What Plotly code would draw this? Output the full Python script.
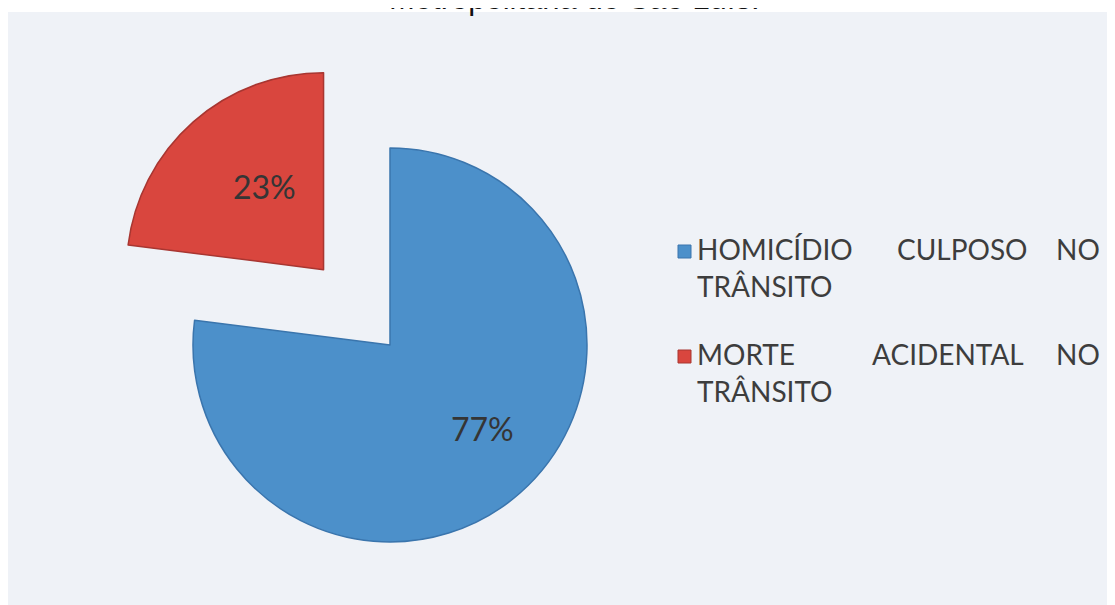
import math
import plotly.graph_objects as go

# data
labels = ["HOMICÍDIO CULPOSO NO TRÂNSITO", "MORTE ACIDENTAL NO TRÂNSITO"]
values = [77, 23]
pulls = [0, 0.51]
colors = ["#4c90ca", "#d9463e"]
edge_colors = ["#3a75ad", "#a83631"]
legend_words = [["HOMICÍDIO", "CULPOSO", "NO"], ["MORTE", "ACIDENTAL", "NO"]]
legend_second_line = ["TRÂNSITO", "TRÂNSITO"]
title_text = "Metropolitana de São Luís."

# the page body has an 8px margin, so the figure is a bit smaller than the window
OFF = 8
W, H = 1115 - OFF, 605 - OFF
cx, cy, r = 390, 345, 197   # pie centre / radius in window px
CLEAR = "rgba(0,0,0,0)"


def px_x(x):
    return (x - OFF) / W


def px_y(y):
    return 1 - (y - OFF) / H


def domain(x0, y0, rad):
    return dict(x=[px_x(x0 - rad), px_x(x0 + rad)],
                y=[px_y(y0 + rad), px_y(y0 - rad)])


total = float(sum(values))
fig = go.Figure()
annotations = []
start = 0.0
for i, v in enumerate(values):
    frac = v / total
    mid = (start + frac / 2) * 2 * math.pi   # clockwise from 12 o'clock
    start += frac
    # exploded slice: shift a copy of the pie along the slice bisector
    ox = math.sin(mid) * pulls[i] * r
    oy = -math.cos(mid) * pulls[i] * r
    mc = [colors[j] if j == i else CLEAR for j in range(len(values))]
    lc = [edge_colors[j] if j == i else CLEAR for j in range(len(values))]
    fig.add_trace(go.Pie(
        labels=labels, values=values, sort=False, direction="clockwise",
        rotation=0, textinfo="none", hoverinfo="label+percent",
        marker=dict(colors=mc, line=dict(color=lc, width=1.5)),
        domain=domain(cx + ox, cy + oy, r), showlegend=False,
    ))
    lx = cx + ox + math.sin(mid) * 0.71 * r
    ly = cy + oy - math.cos(mid) * 0.71 * r
    annotations.append(dict(
        x=px_x(lx), y=px_y(ly), xref="paper", yref="paper",
        text="%d%%" % round(frac * 100), showarrow=False,
        font=dict(family="Lato", size=32, color="#353535"),
    ))

# legend (justified text like the original)
leg_font = dict(family="Lato", size=28, color="#3d3d3d")
row_y = [249, 354]
mid_x = [962, 948]
shapes = [dict(type="rect", xref="paper", yref="paper", layer="below",
               x0=0, x1=1, y0=0, y1=px_y(12),
               fillcolor="#eff2f7", line=dict(width=0))]
for k, words in enumerate(legend_words):
    y1 = row_y[k]
    y2 = y1 + 37
    shapes.append(dict(type="rect", xref="paper", yref="paper",
                       x0=px_x(678), x1=px_x(691),
                       y0=px_y(y1 + 9), y1=px_y(y1 - 4),
                       fillcolor=colors[k], line=dict(color=edge_colors[k], width=1)))
    annotations.append(dict(x=px_x(695), y=px_y(y1), xanchor="left", text=words[0]))
    annotations.append(dict(x=px_x(mid_x[k]), y=px_y(y1), xanchor="center", text=words[1]))
    annotations.append(dict(x=px_x(1102), y=px_y(y1), xanchor="right", text=words[2]))
    annotations.append(dict(x=px_x(695), y=px_y(y2), xanchor="left", text=legend_second_line[k]))
for a in annotations:
    if "font" not in a:
        a.update(xref="paper", yref="paper", yanchor="middle",
                 showarrow=False, font=leg_font)

# title, cut off at the top edge as in the scanned original
annotations.append(dict(
    x=px_x(574), y=px_y(-2), xref="paper", yref="paper",
    xanchor="center", yanchor="middle", showarrow=False, text=title_text,
    font=dict(family="Liberation Sans, Arial", size=31, color="#111111"),
))

fig.update_layout(
    width=W, height=H, margin=dict(l=0, r=0, t=0, b=0),
    paper_bgcolor="white", plot_bgcolor="white",
    shapes=shapes, annotations=annotations,
)
fig.write_html("out.html")
